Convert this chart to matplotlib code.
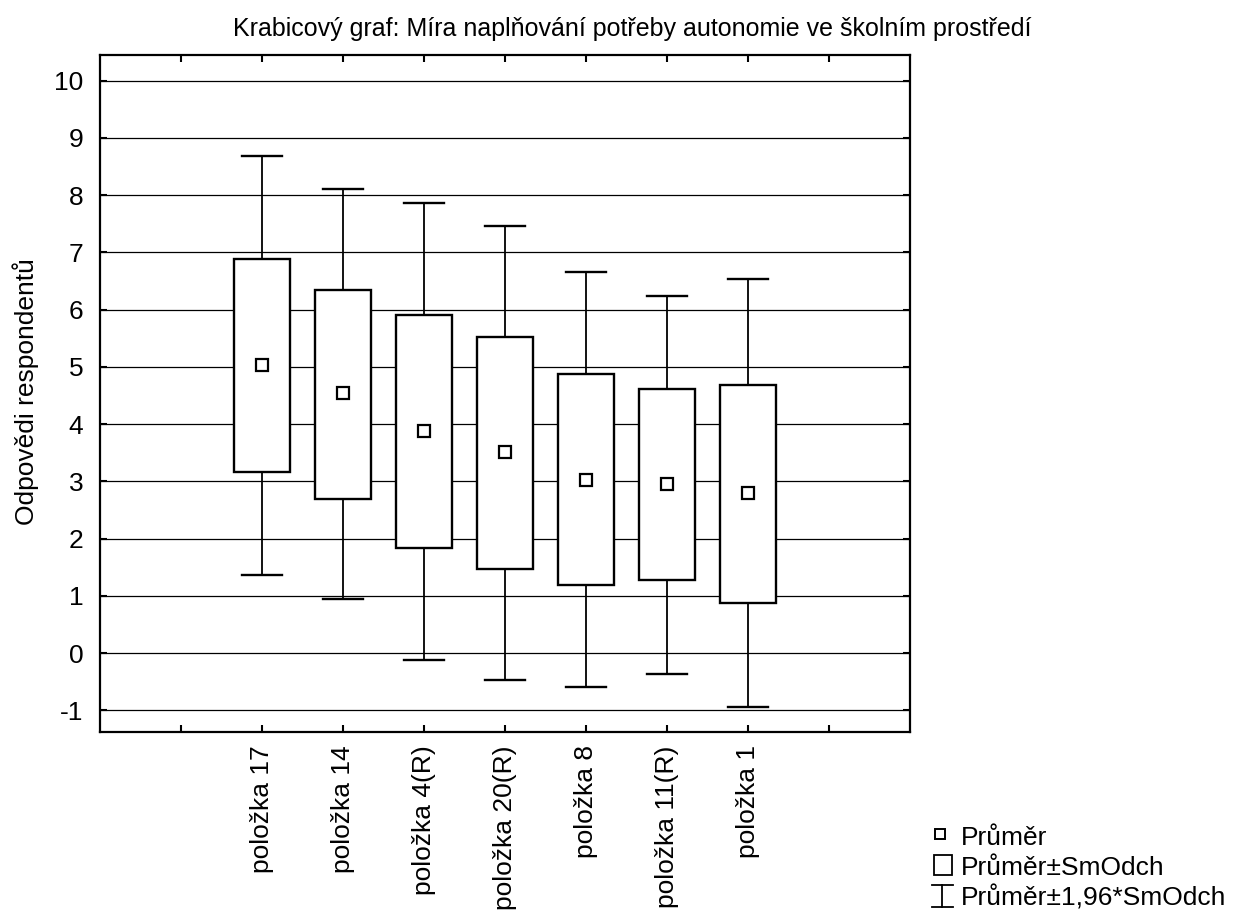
import matplotlib
matplotlib.use('Agg')
import matplotlib.pyplot as plt
from matplotlib.patches import Rectangle
from matplotlib.lines import Line2D

plt.rcParams['font.family'] = ['Liberation Sans', 'DejaVu Sans']

# hodnoty
polozky = ['položka 17', 'položka 14', 'položka 4(R)', 'položka 20(R)',
           'položka 8', 'položka 11(R)', 'položka 1']
prumer = [5.03, 4.54, 3.88, 3.51, 3.03, 2.95, 2.80]
box_dole = [3.16, 2.69, 1.83, 1.47, 1.18, 1.27, 0.88]
box_nahore = [6.88, 6.34, 5.91, 5.53, 4.87, 4.62, 4.69]
vous_dole = [1.36, 0.94, -0.13, -0.48, -0.60, -0.36, -0.95]
vous_nahore = [8.68, 8.10, 7.86, 7.47, 6.65, 6.23, 6.53]

fs = 19
W, H = 1241, 913
fig = plt.figure(figsize=(W / 100, H / 100), dpi=100)
ax = fig.add_axes([100 / W, 1 - 732 / H, 810 / W, 677 / H])

pozice = list(range(2, 2 + len(polozky)))

for y in range(-1, 11):
    ax.axhline(y, color='black', lw=0.9, zorder=1)

for x, m, bl, bh, wl, wh in zip(pozice, prumer, box_dole, box_nahore, vous_dole, vous_nahore):
    ax.plot([x, x], [bh, wh], color='black', lw=1.3, zorder=2)
    ax.plot([x, x], [wl, bl], color='black', lw=1.3, zorder=2)
    ax.plot([x - 0.25, x + 0.25], [wh, wh], color='black', lw=1.7, zorder=2)
    ax.plot([x - 0.25, x + 0.25], [wl, wl], color='black', lw=1.7, zorder=2)
    ax.add_patch(Rectangle((x - 0.35, bl), 0.7, bh - bl, facecolor='white',
                           edgecolor='black', lw=1.7, zorder=3))
    ax.plot(x, m, marker='s', ms=9, mfc='white', mec='black', mew=1.6, zorder=4)

ax.set_xlim(0, 10)
ax.set_ylim(-1.38, 10.45)
ax.set_yticks(range(-1, 11))
ax.set_yticklabels([str(v) for v in range(-1, 11)], fontsize=fs)
ax.set_xticks(range(1, 10))
ax.set_xticklabels([''] + polozky + [''], rotation=90, fontsize=fs, va='top')
ax.tick_params(direction='in', length=5, width=1.5, top=True, right=True)
ax.tick_params(axis='y', pad=12)
ax.tick_params(axis='x', pad=9.5)
for s in ax.spines.values():
    s.set_linewidth(1.6)

fig.text(26 / W, 1 - 392 / H, 'Odpovědi respondentů', rotation=90,
         ha='center', va='center', fontsize=fs)
fig.text(632 / W, 1 - 29 / H, 'Krabicový graf: Míra naplňování potřeby autonomie ve školním prostředí',
         ha='center', va='center', fontsize=18)

# legenda
def fx(px):
    return px / W
def fy(py):
    return 1 - py / H

fig.add_artist(Line2D([fx(940)], [fy(834)], marker='s', ms=7.5, mfc='white', mec='black',
                      mew=1.4, transform=fig.transFigure))
fig.add_artist(Rectangle((fx(934), fy(875)), 18 / W, 20 / H, facecolor='white',
                         edgecolor='black', lw=1.3, transform=fig.transFigure))
fig.add_artist(Line2D([fx(942), fx(942)], [fy(885), fy(907)], color='black', lw=1.3,
                      transform=fig.transFigure))
fig.add_artist(Line2D([fx(932), fx(953)], [fy(885), fy(885)], color='black', lw=1.3,
                      transform=fig.transFigure))
fig.add_artist(Line2D([fx(932), fx(953)], [fy(907), fy(907)], color='black', lw=1.3,
                      transform=fig.transFigure))
for py, t in zip([845, 875, 905], ['Průměr', 'Průměr±SmOdch', 'Průměr±1,96*SmOdch']):
    fig.text(fx(961), fy(py), t, ha='left', va='baseline', fontsize=fs)

fig.savefig('out.png', dpi=100)
